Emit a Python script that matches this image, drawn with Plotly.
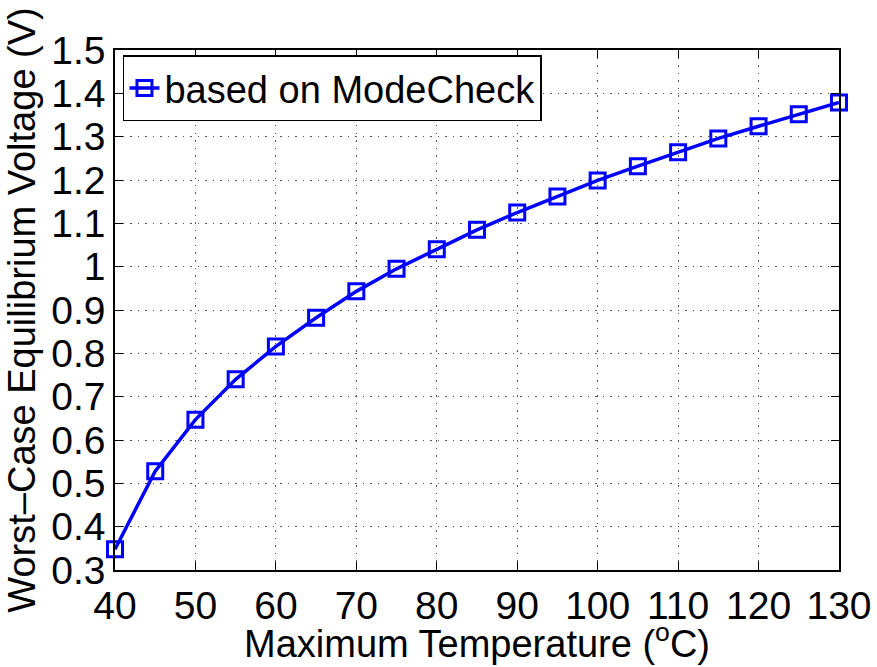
import plotly.graph_objects as go

temps = [40, 45, 50, 55, 60, 65, 70, 75, 80, 85, 90, 95, 100, 105, 110, 115, 120, 125, 130]
voltage = [0.348, 0.528, 0.647, 0.740, 0.816, 0.882, 0.943, 0.995, 1.040, 1.085, 1.125,
           1.162, 1.199, 1.232, 1.264, 1.296, 1.324, 1.352, 1.379]
x_ticks = [40, 50, 60, 70, 80, 90, 100, 110, 120, 130]
y_ticks = [0.3, 0.4, 0.5, 0.6, 0.7, 0.8, 0.9, 1.0, 1.1, 1.2, 1.3, 1.4, 1.5]
y_tick_text = ["0.3", "0.4", "0.5", "0.6", "0.7", "0.8", "0.9", "1", "1.1", "1.2", "1.3", "1.4", "1.5"]

FONT = "Liberation Sans, Arial, Helvetica, sans-serif"

fig = go.Figure()
fig.add_trace(go.Scatter(
    x=temps, y=voltage, mode="lines+markers", name="based on ModeCheck",
    line=dict(color="#0000FF", width=3.5),
    marker=dict(symbol="square-open", size=15, color="#0000FF", line=dict(width=3, color="#0000FF")),
    cliponaxis=False,
))

axis_common = dict(
    showline=True, linecolor="black", linewidth=1.5, mirror="ticks",
    ticks="inside", ticklen=8, tickwidth=1, tickcolor="black",
    showgrid=True, gridcolor="#555555", griddash="1.5px,6px", gridwidth=1,
    zeroline=False, tickfont=dict(family=FONT, size=39, color="black"),
    automargin=False,
)

fig.update_xaxes(range=[40, 130], tickvals=x_ticks, **axis_common)
fig.update_yaxes(
    range=[0.3, 1.5], tickvals=y_ticks, ticktext=y_tick_text,
    title=dict(text="Worst–Case Equilibrium Voltage (V)", font=dict(family=FONT, size=38, color="black"), standoff=4),
    **axis_common,
)

fig.add_annotation(
    text="Maximum Temperature (<sup>o</sup>C)", xref="paper", yref="paper",
    x=0.5, y=-0.186, xanchor="center", yanchor="bottom", showarrow=False,
    font=dict(family=FONT, size=38, color="black"),
)

fig.update_layout(
    width=877, height=667,
    margin=dict(l=115, r=38, t=50, b=97),
    paper_bgcolor="white", plot_bgcolor="white",
    showlegend=True,
    legend=dict(
        x=0.011, y=0.99, xanchor="left", yanchor="top",
        bgcolor="white", bordercolor="black", borderwidth=1.5,
        font=dict(family=FONT, size=38, color="black"),
        itemwidth=30, tracegroupgap=0,
    ),
)

fig.write_html("out.html")
